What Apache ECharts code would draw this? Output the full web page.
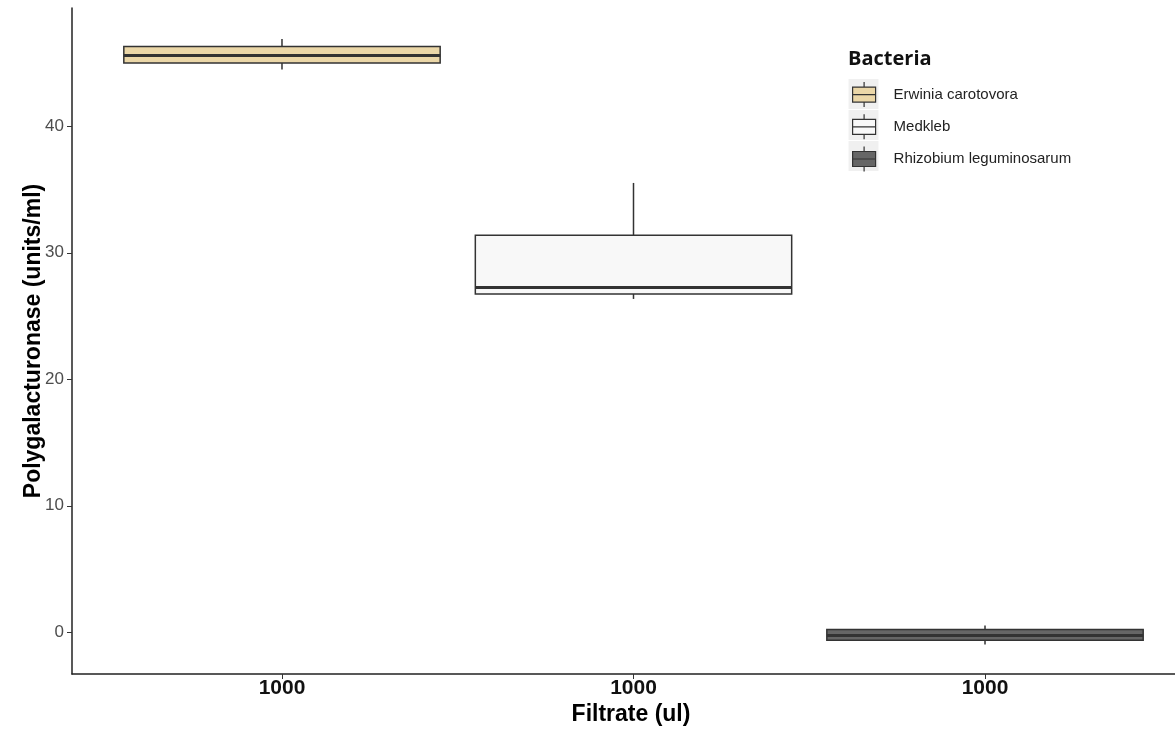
<!DOCTYPE html>
<html>
<head>
<meta charset="utf-8">
<script src="https://cdn.jsdelivr.net/npm/echarts@6/dist/echarts.min.js"></script>
<style>
  html, body { margin: 0; padding: 0; background: #ffffff; }
  #chart { width: 1175px; height: 731px; }
</style>
</head>
<body>
<div id="chart"></div>
<script>
// ---- data ----
const categories = ['1000', '1000', '1000'];
const xPositions = [1, 2, 3];
const bacteria = ['Erwinia carotovora', 'Medkleb', 'Rhizobium leguminosarum'];
// [min, Q1, median, Q3, max]
const erwinia = [44.48, 45.01, 45.60, 46.31, 46.89];
const medkleb = [26.35, 26.74, 27.25, 31.38, 35.52];
const rhizobium = [-0.97, -0.63, -0.26, 0.21, 0.53];
const yTicks = [0, 10, 20, 30, 40];

const fills = ['#EBD7A8', '#F8F8F8', '#666666'];
const lineColor = '#333333';
const seriesValues = [erwinia, medkleb, rhizobium];

function renderBox(params, api) {
  const x = api.value(0);
  const pMin = api.coord([x, api.value(1)]);
  const pQ1 = api.coord([x, api.value(2)]);
  const pMed = api.coord([x, api.value(3)]);
  const pQ3 = api.coord([x, api.value(4)]);
  const pMax = api.coord([x, api.value(5)]);
  const half = api.size([0.9, 0])[0] / 2;
  const fill = fills[params.seriesIndex];
  return {
    type: 'group',
    children: [
      { type: 'line', shape: { x1: pMax[0], y1: pMax[1], x2: pQ3[0], y2: pQ3[1] },
        style: { stroke: lineColor, lineWidth: 1.5 } },
      { type: 'line', shape: { x1: pQ1[0], y1: pQ1[1], x2: pMin[0], y2: pMin[1] },
        style: { stroke: lineColor, lineWidth: 1.5 } },
      { type: 'rect', shape: { x: pQ3[0] - half, y: pQ3[1], width: 2 * half, height: pQ1[1] - pQ3[1] },
        style: { fill: fill, stroke: lineColor, lineWidth: 1.5 } },
      { type: 'line', shape: { x1: pMed[0] - half, y1: pMed[1], x2: pMed[0] + half, y2: pMed[1] },
        style: { stroke: lineColor, lineWidth: 3 } }
    ]
  };
}

const series = bacteria.map(function (name, i) {
  return {
    name: name,
    type: 'custom',
    renderItem: renderBox,
    itemStyle: { color: fills[i], borderColor: lineColor, borderWidth: 1.2 },
    encode: { x: 0, y: [1, 2, 3, 4, 5] },
    data: [[xPositions[i]].concat(seriesValues[i])]
  };
});

const glyph = 'path://M11.5,0 V5 M0,5 H23 V20 H0 Z M0,12.5 H23 M11.5,20 V25';

const chart = echarts.init(document.getElementById('chart'), null, { renderer: 'canvas' });
chart.setOption({
  backgroundColor: '#ffffff',
  animation: false,
  title: {
    text: 'Bacteria',
    left: 848, top: 49, padding: 0,
    textStyle: { fontFamily: 'Open Sans', fontWeight: 'bold', fontSize: 20, color: '#111111' }
  },
  graphic: [0, 1, 2].map(function (k) {
    return { type: 'rect', left: 848.5, top: 79 + 31 * k, z: -1,
      shape: { width: 30, height: 30 }, style: { fill: '#F0F0F0' } };
  }),
  legend: {
    orient: 'vertical',
    left: 852, top: 81.5, padding: 0,
    itemWidth: 23, itemHeight: 25, itemGap: 6,
    data: bacteria.map(function (name, i) {
      return { name: name, icon: glyph,
        itemStyle: { color: fills[i], borderColor: lineColor, borderWidth: 1.2 } };
    }),
    textStyle: { fontFamily: 'Liberation Sans', fontSize: 15, color: '#222222', padding: [0, 0, 0, 13] }
  },
  grid: { left: 72, right: 0, top: 8, bottom: 53, containLabel: false },
  xAxis: {
    type: 'value',
    min: 0.4026, max: 3.5405,
    splitLine: { show: false },
    axisLine: { show: true, onZero: false, lineStyle: { color: '#222222', width: 1.5 } },
    axisTick: { show: true, customValues: xPositions, length: 5, lineStyle: { color: '#333333', width: 1 } },
    axisLabel: {
      customValues: xPositions,
      formatter: function (v) { return categories[Math.round(v) - 1]; },
      margin: 4,
      fontFamily: 'Liberation Sans', fontWeight: 'bold', fontSize: 21, color: '#111111'
    },
    name: 'Filtrate (ul)',
    nameLocation: 'middle',
    nameMoveOverlap: false,
    nameGap: 29,
    nameTextStyle: { fontFamily: 'Liberation Sans', fontWeight: 'bold', fontSize: 23, color: '#000000', padding: [0, 0, 0, 15] }
  },
  yAxis: {
    type: 'value',
    min: -3.30, max: 49.35,
    splitLine: { show: false },
    axisLine: { show: true, onZero: false, lineStyle: { color: '#222222', width: 1.5 } },
    axisTick: { show: true, customValues: yTicks, length: 5, lineStyle: { color: '#333333', width: 1 } },
    axisLabel: {
      customValues: yTicks,
      margin: 8,
      fontFamily: 'Liberation Sans', fontSize: 17, color: '#4D4D4D'
    },
    name: 'Polygalacturonase (units/ml)',
    nameLocation: 'middle',
    nameMoveOverlap: false,
    nameGap: 27,
    nameTextStyle: { fontFamily: 'Liberation Sans', fontWeight: 'bold', fontSize: 23, color: '#000000' }
  },
  series: series
});
</script>
</body>
</html>
